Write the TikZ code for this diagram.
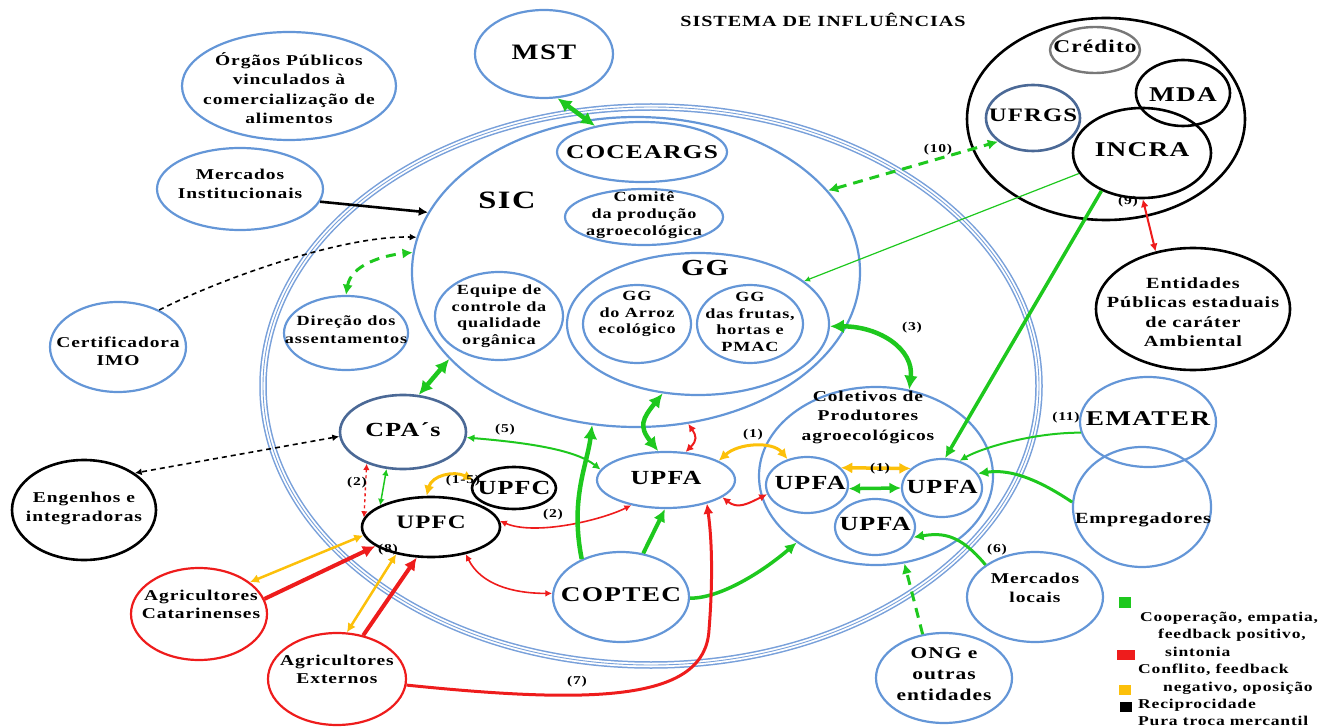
\documentclass[tikz,border=0pt]{standalone}
\usepackage{fontspec}
\setmainfont{Liberation Serif}[FakeStretch=1.3,LetterSpace=6]
\usetikzlibrary{shapes.geometric,arrows.meta}
\definecolor{nb}{RGB}{100,150,215}
\definecolor{ndark}{RGB}{75,105,150}
\definecolor{ngray}{RGB}{120,120,120}
\definecolor{gr}{RGB}{30,200,30}
\definecolor{rd}{RGB}{238,28,28}
\definecolor{og}{RGB}{252,192,10}
\definecolor{ringb}{RGB}{120,160,218}
\tikzset{
 ov/.style={ellipse, draw=nb, line width=2.2pt, inner sep=0pt},
 ovd/.style={ellipse, draw=ndark, line width=2.6pt, inner sep=0pt},
 ovk/.style={ellipse, draw=black, line width=2.6pt, inner sep=0pt},
 ovr/.style={ellipse, draw=rd, line width=2.2pt, inner sep=0pt},
 sz/.style 2 args={minimum width=#1pt, minimum height=#2pt},
 tx/.style={font=\bfseries\fontsize{#1}{#1}\selectfont, inner sep=0pt},
 txm/.style 2 args={font=\bfseries\fontsize{#1}{#2}\selectfont, align=center, inner sep=0pt},
 lab/.style={font=\bfseries\fontsize{12}{12}\selectfont, inner sep=0pt},
 lg/.style={font=\bfseries\fontsize{13.5}{16}\selectfont, anchor=west, inner sep=0pt},
 G/.style={draw=gr, line width=#1},
 R/.style={draw=rd, line width=#1},
 O/.style={draw=og, line width=#1},
 K/.style={draw=black, line width=#1},
 Gd/.style={draw=gr, line width=3pt, dash pattern=on 10pt off 7pt},
 Kd/.style={draw=black, line width=1.6pt, dash pattern=on 5pt off 4pt},
 Rd/.style={draw=rd, line width=1.4pt, dash pattern=on 3pt off 3pt},
}
\begin{document}
\begin{tikzpicture}[x=1pt,y=-1pt,>={Latex[length=3pt 2.4 0,width=3pt 2.4 0]}]
\useasboundingbox (0,0) rectangle (1341,727);
% outer system ring
\draw[ringb, line width=7.5pt] (651,386) ellipse [x radius=388, y radius=279];
\draw[white, line width=4.5pt] (651,386) ellipse [x radius=388, y radius=279];
\draw[ringb, line width=0.9pt] (651,386) ellipse [x radius=388, y radius=279];
% nodes (ellipses)
\node[ov, sz={448}{310}] (sic) at (636,272) {};
\node[ov, sz={170}{60}] (coc) at (642,152) {};
\node[ov, sz={158}{56}] (com) at (644,217) {};
\node[ov, sz={138}{88}] (mst) at (544,54) {};
\node[ov, sz={214}{108}] (org) at (289,86) {};
\node[ov, sz={166}{82}] (mi) at (240,189) {};
\node[ov, sz={136}{90}] (cert) at (118,347) {};
\node[ov, sz={124}{74}] (dir) at (346,333) {};
\node[ov, sz={128}{88}] (eq) at (499,316) {};
\node[ov, sz={262}{142}] (gg) at (698,324) {};
\node[ov, sz={108}{78}] (gga) at (637,324) {};
\node[ov, sz={106}{78}] (ggf) at (750,324) {};
\node[ovd, sz={126}{74}] (cpa) at (403,432) {};
\node[ovk, sz={138}{60}] (upfc) at (431,527) {};
\node[ovk, sz={84}{42}] (upfcb) at (514,488) {};
\node[ov, sz={138}{56}] (upfa) at (666,480) {};
\node[ov, sz={234}{178}] (col) at (876,476) {};
\node[ov, sz={82}{56}] (upfal) at (807,485) {};
\node[ov, sz={80}{58}] (upfar) at (942,488) {};
\node[ov, sz={80}{56}] (upfab) at (875,527) {};
\node[ov, sz={136}{90}] (cop) at (621,597) {};
\node[ovk, sz={278}{202}] (grp) at (1106,119) {};
\node[ellipse, draw=ngray, line width=2.4pt, inner sep=0pt, sz={90}{46}] (cred) at (1095,50) {};
\node[ovk, sz={94}{66}] (mda) at (1183,93) {};
\node[ovd, sz={94}{66}] (ufrgs) at (1033,118) {};
\node[ovk, sz={138}{90}] (incra) at (1142,153) {};
\node[ovk, sz={194}{122}] (ent) at (1193,309) {};
\node[ov, sz={136}{90}] (emater) at (1148,422) {};
\node[ov, sz={138}{120}] (emp) at (1142,507) {};
\node[ov, sz={136}{90}] (ml) at (1035,597) {};
\node[ov, sz={136}{90}] (ong) at (944,678) {};
\node[ovk, sz={144}{100}] (eng) at (84,510) {};
\node[ovr, sz={136}{92}] (ac) at (199,614) {};
\node[ovr, sz={138}{92}] (ae) at (337,679) {};
% texts
\node[tx=15.5] (title) at (823,20) {SISTEMA DE INFLUÊNCIAS};
\node[tx=22] (mstT) at (544,52) {MST};
\node[tx=19.5] (cocT) at (642,152) {COCEARGS};
\node[txm={14}{17}] (comT) at (644,215) {Comitê\\da produção\\agroecológica};
\node[tx=25] (sicT) at (507,200) {SIC};
\node[txm={15}{19.5}] (orgT) at (289,88) {Órgãos Públicos\\vinculados à\\comercialização de\\alimentos};
\node[txm={15}{19}] (miT) at (240,184) {Mercados\\Institucionais};
\node[txm={15}{18}] (certT) at (118,351) {Certificadora\\IMO};
\node[txm={14}{18}] (dirT) at (346,330) {Direção dos\\assentamentos};
\node[txm={14}{16.5}] (eqT) at (499,316) {Equipe de\\controle da\\qualidade\\orgânica};
\node[tx=23] (ggT) at (705,268) {GG};
\node[txm={14}{16.5}] (ggaT) at (637,314) {GG\\do Arroz\\ecológico};
\node[txm={14}{16.5}] (ggfT) at (750,322) {GG\\das frutas,\\hortas e\\PMAC};
\node[tx=20] (cpaT) at (403,430) {CPA´s};
\node[tx=19] (upfcT) at (431,522) {UPFC};
\node[tx=20] (upfcbT) at (514,488) {UPFC};
\node[tx=20] (upfaT) at (666,478) {UPFA};
\node[txm={15}{19.5}] (colT) at (868,417) {Coletivos de\\Produtores\\agroecológicos};
\node[tx=20] (upfalT) at (810,483) {UPFA};
\node[tx=20] (upfarT) at (942,487) {UPFA};
\node[tx=20] (upfabT) at (875,524) {UPFA};
\node[tx=21] (copT) at (621,595) {COPTEC};
\node[tx=18] (credT) at (1095,46) {Crédito};
\node[tx=21] (mdaT) at (1183,95) {MDA};
\node[tx=19] (ufrgsT) at (1033,115) {UFRGS};
\node[tx=21] (incraT) at (1142,150) {INCRA};
\node[txm={15.5}{19.5}] (entT) at (1193,312) {Entidades\\Públicas estaduais\\de caráter\\Ambiental};
\node[tx=21] (ematerT) at (1148,419) {EMATER};
\node[tx=15.5] (empT) at (1143,520) {Empregadores};
\node[txm={15}{19}] (mlT) at (1035,588) {Mercados\\locais};
\node[txm={16.5}{21}] (ongT) at (944,674) {ONG e\\outras\\entidades};
\node[txm={15}{19}] (engT) at (84,508) {Engenhos e\\integradoras};
\node[txm={15}{18}] (acT) at (201,604) {Agricultores\\Catarinenses};
\node[txm={15}{18}] (aeT) at (337,669) {Agricultores\\Externos};
% connectors
\draw[G=4.5pt,<->] (mst.-73) -- (coc.151);
\draw[K=2.6pt,->] (mi.-9) -- (sic.164);
\draw[Kd,->] (cert.42) .. controls +(70,-35) and +(-70,-2) .. (sic.171);
\draw[Gd,<->] (dir.90) .. controls +(5,-30) and +(-30,3) .. (sic.175);
\draw[G=4.5pt,<->] (cpa.67) -- (sic.205);
\draw[Kd,<->] (cpa.184) -- (eng.36);
\draw[G=1.5pt,<->] (cpa.246) -- (upfc.157);
\draw[Rd,<->] (cpa.221) -- (upfc.172);
\draw[O=3pt,<->] (upfc.98) .. controls +(5,-20) and +(-20,-10) .. (upfcb.169);
\draw[R=1.6pt,<->] (upfc.5) .. controls +(35,15) and +(-30,15) .. (upfa.216);
\draw[R=1.6pt,<->] (upfc.-38) .. controls +(15,30) and +(-40,0) .. (cop.177);
\draw[G=4.5pt,->] (cop.136) .. controls +(-12,-60) and +(-5,40) .. (sic.254);
\draw[G=4.5pt,<->] (upfa.105) .. controls +(-20,-25) and +(-20,25) .. (gg.243);
\draw[R=2pt,<->] (upfa.55) .. controls +(12,-12) and +(8,12) .. (sic.289);
\draw[G=4pt,->] (cop.63) -- (upfa.268);
\draw[G=3.5pt,->] (cop.-1) .. controls +(30,0) and +(-35,30) .. (col.220);
\draw[R=3pt,->] (ae.-5) .. controls (600,705) and (705,700) .. (709,630) .. controls (713,580) and (712,540) .. (upfa.-30);
\draw[R=2pt,<->] (upfa.-17) .. controls +(15,12) and +(-20,10) .. (upfal.193);
\draw[O=3pt,<->] (upfa.20) .. controls +(20,-18) and +(-15,-18) .. (upfal.127);
\draw[O=3.5pt,<->] (upfal.27) -- (upfar.148);
\draw[G=3.5pt,<->] (upfal.-5) -- (upfar.180);
\draw[G=4.5pt,<->] (gg.-1) .. controls +(50,0) and +(5,-40) .. (col.69);
\draw[G=1.2pt,->] (incra.198) -- (gg.22);
\draw[G=3.5pt,->] (incra.223) -- (upfar.84);
\draw[R=2pt,<->] (incra.-89) -- (ent.123);
\draw[Gd,<->] (sic.23) -- (ufrgs.214);
\draw[G=2pt,->] (emater.189) .. controls +(-50,0) and +(20,-12) .. (upfar.57);
\draw[G=3pt,->] (emp.176) .. controls +(-30,-20) and +(35,-5) .. (upfar.22);
\draw[G=3pt,->] (ml.147) .. controls +(-25,-30) and +(30,-5) .. (upfab.-15);
\draw[Gd,->] (ong.116) -- (col.288);
\draw[G=2pt,<->] (cpa.-5) .. controls +(60,5) and +(-25,-20) .. (upfa.171);
\draw[O=2.5pt,<->] (ac.32) -- (upfc.187);
\draw[R=4pt,->] (ac.13) -- (upfc.199);
\draw[O=2.5pt,<->] (ae.78) -- (upfc.218);
\draw[R=4pt,->] (ae.59) -- (upfc.245);
% labels
\node[lab] (l1a) at (753,435) {(1)};
\node[lab] (l1b) at (880,469) {(1)};
\node[lab] (l2a) at (553,515) {(2)};
\node[lab] (l2b) at (357,483) {(2)};
\node[lab] (l3) at (912,328) {(3)};
\node[lab] (l5) at (505,430) {(5)};
\node[lab] (l6) at (997,550) {(6)};
\node[lab] (l7) at (577,682) {(7)};
\node[lab] (l8) at (388,550) {(8)};
\node[lab] (l9) at (1128,202) {(9)};
\node[lab] (l10) at (938,150) {(10)};
\node[lab] (l11) at (1066,418) {(11)};
\node[lab] (l15) at (463,481) {(1-5)};
% legend
\node[fill=gr, inner sep=0pt, sz={12}{11}] (lgG) at (1125,602) {};
\node[fill=rd, inner sep=0pt, sz={18}{10}] (lgR) at (1126,655) {};
\node[fill=og, inner sep=0pt, sz={12}{10}] (lgO) at (1125,690) {};
\node[fill=black, inner sep=0pt, sz={12}{10}] (lgK) at (1126,707) {};
\node[lg] (lt1) at (1140,618) {Cooperação, empatia,};
\node[lg] (lt2) at (1158,635) {feedback positivo,};
\node[lg] (lt3) at (1165,652) {sintonia};
\node[lg] (lt4) at (1138,670) {Conflito, feedback};
\node[lg] (lt5) at (1163,688) {negativo, oposição};
\node[lg] (lt6) at (1138,705) {Reciprocidade};
\node[lg] (lt7) at (1138,721) {Pura troca mercantil};
\end{tikzpicture}
\end{document}
